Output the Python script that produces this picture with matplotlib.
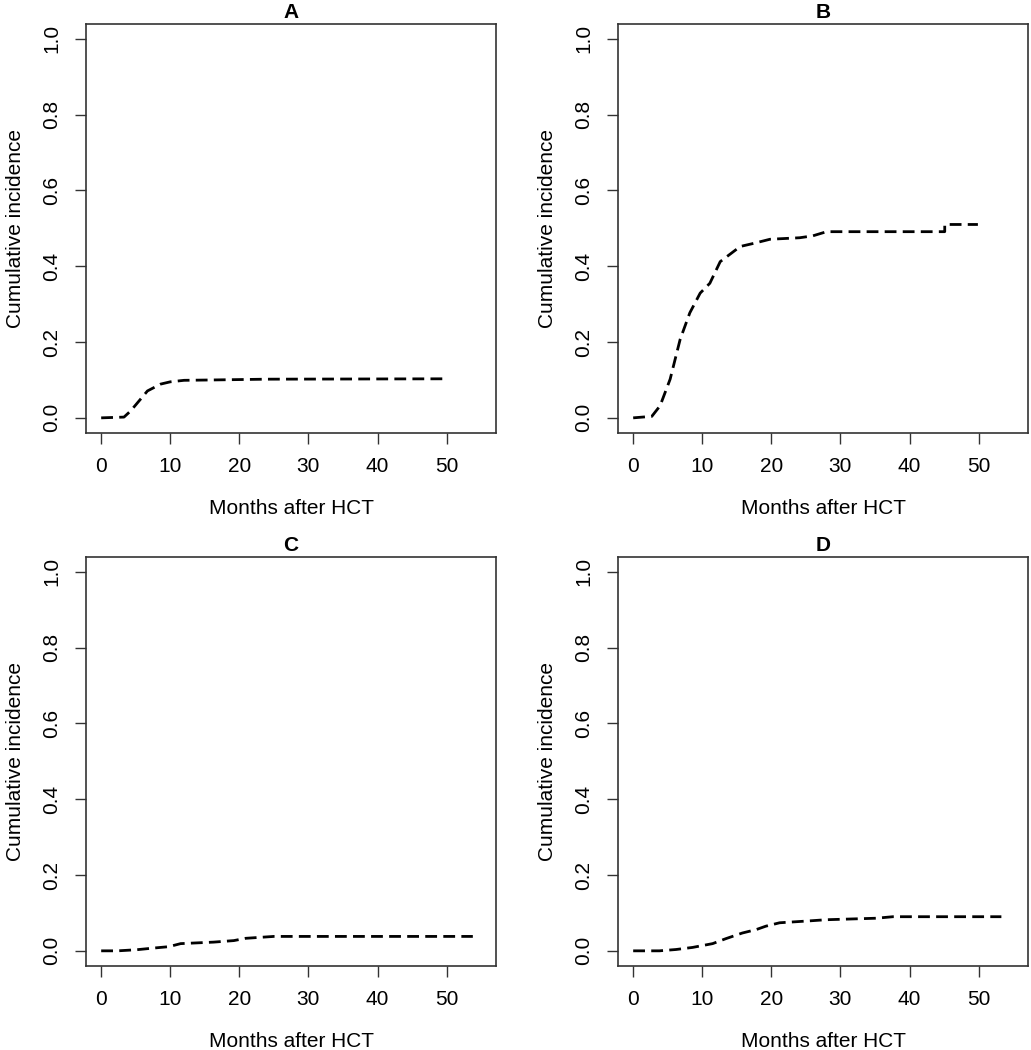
import matplotlib
matplotlib.use("Agg")
import matplotlib.pyplot as plt

plt.rcParams["font.family"] = ["Liberation Sans", "DejaVu Sans"]
plt.rcParams["lines.scale_dashes"] = False

monate_a = [0, 3.3, 4.25, 5.5, 6.7, 8.6, 10.0, 12.0, 16.3, 24, 50]
werte_a = [0, 0.002, 0.018, 0.045, 0.071, 0.089, 0.095, 0.099, 0.100, 0.102, 0.103]

monate_b = [0, 2.7, 3.9, 5.35, 6.8, 8.2, 9.7, 11.1, 12.6, 15.5, 17.4, 19.8,
            24.1, 26.0, 28.0, 45.1, 45.1, 49.9]
werte_b = [0, 0.004, 0.032, 0.102, 0.207, 0.277, 0.329, 0.355, 0.412, 0.452,
           0.460, 0.471, 0.475, 0.480, 0.491, 0.491, 0.510, 0.510]

monate_c = [0, 2.4, 5.2, 7.4, 9.8, 11.5, 16.3, 19.2, 20.9, 25, 53.8]
werte_c = [0, 0, 0.003, 0.007, 0.011, 0.019, 0.023, 0.027, 0.033, 0.038, 0.038]

monate_d = [0, 3.8, 6.2, 8.6, 11.5, 13.4, 15.8, 17.8, 19.2, 21.2, 25.5, 27.9,
            35.2, 37.6, 53.3]
werte_d = [0, 0, 0.0035, 0.009, 0.019, 0.032, 0.047, 0.056, 0.065, 0.074,
           0.079, 0.082, 0.086, 0.090, 0.090]

titel = ["A", "B", "C", "D"]
x_ticks = [0, 10, 20, 30, 40, 50]
y_ticks = [0.0, 0.2, 0.4, 0.6, 0.8, 1.0]

kurven = [(monate_a, werte_a), (monate_b, werte_b),
          (monate_c, werte_c), (monate_d, werte_d)]

fig = plt.figure(figsize=(10.31, 10.5), dpi=100)

# Positionen wie im R-Layout (2x2)
links = [0.0834, 0.5994]
unten = [0.5876, 0.080]
breite = 0.398
hoehe = 0.3900

for i, (x, y) in enumerate(kurven):
    ax = fig.add_axes([links[i % 2], unten[i // 2], breite, hoehe])
    ax.plot(x, y, color="black", lw=2.0, linestyle=(0, (8.5, 4.5)))

    ax.set_xlim(-2.2, 57.2)
    ax.set_ylim(-0.04, 1.04)
    ax.set_xticks(x_ticks)
    ax.set_yticks(y_ticks)
    ax.set_xticklabels([str(t) for t in x_ticks], fontsize=15)
    ax.set_yticklabels(["%.1f" % t for t in y_ticks], fontsize=15,
                       rotation=90, va="center")
    ax.tick_params(direction="out", length=8, width=1.0, color="#333333")
    ax.tick_params(axis="x", pad=9)
    ax.tick_params(axis="y", pad=10)
    for s in ax.spines.values():
        s.set_linewidth(1.2)
        s.set_color("#333333")

    ax.set_title(titel[i], fontsize=15, fontweight="bold", pad=4)
    ax.set_xlabel("Months after HCT", fontsize=15, labelpad=17)
    ax.set_ylabel("Cumulative incidence", fontsize=15, labelpad=12)

plt.savefig("out.png", dpi=100)
